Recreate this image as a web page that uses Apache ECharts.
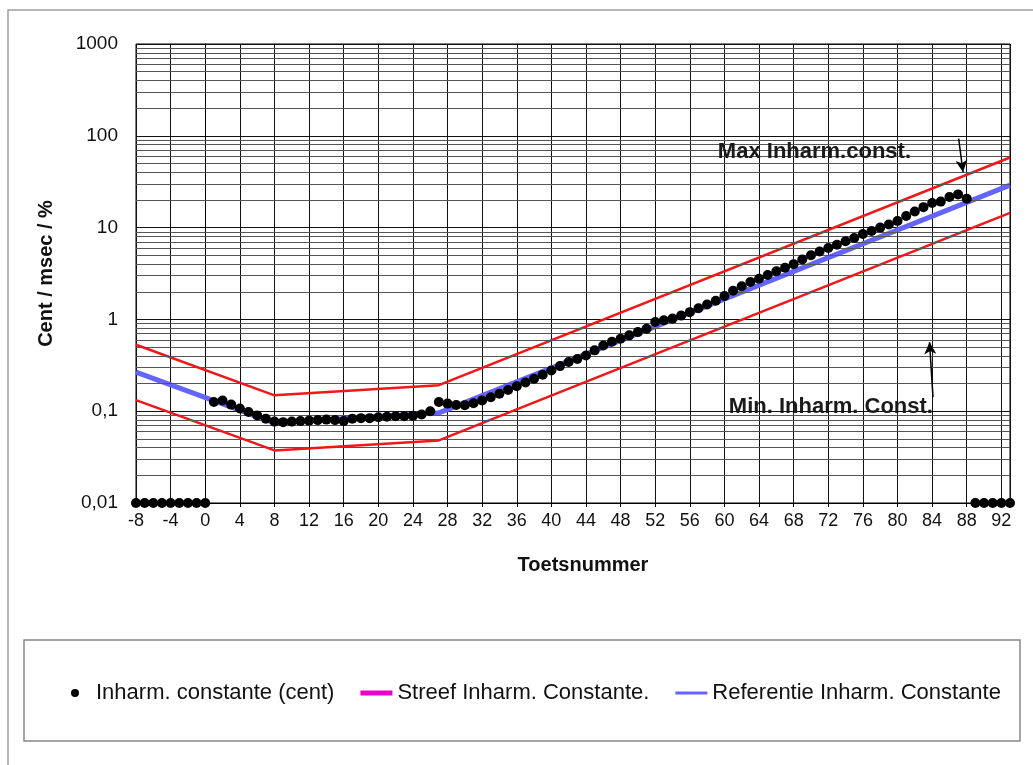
<!DOCTYPE html>
<html><head><meta charset="utf-8">
<script src="https://cdn.jsdelivr.net/npm/echarts@6/dist/echarts.min.js"></script>
<style>html,body{margin:0;padding:0;background:#fff}#c{width:1033px;height:765px}</style>
</head><body><div id="c"></div>
<script>
// ---- data ----
const keyStart = -8;          // first key number of the measured series
const inharmValues = [
  0.01,0.01,0.01,0.01,0.01,0.01,0.01,0.01,0.01,           // -8..0
  0.126,0.131,0.118,0.107,0.098,0.090,0.083,0.077,0.076,0.077, // 1..10
  0.078,0.079,0.080,0.081,0.080,0.078,0.083,0.084,0.084,0.086, // 11..20
  0.087,0.088,0.088,0.089,0.092,0.100,0.126,0.121,0.117,0.116, // 21..30
  0.122,0.131,0.142,0.155,0.170,0.187,0.205,0.226,0.250,0.278, // 31..40
  0.310,0.343,0.370,0.405,0.460,0.520,0.570,0.616,0.670,0.727, // 41..50
  0.790,0.935,0.980,1.02,1.10,1.20,1.32,1.45,1.60,1.80,        // 51..60
  2.05,2.30,2.55,2.77,3.05,3.35,3.65,4.00,4.50,5.00,           // 61..70
  5.50,6.00,6.50,7.10,7.70,8.50,9.20,10.0,10.8,11.8,           // 71..80
  13.4,15.0,16.7,18.5,19.2,21.5,23.0,20.6,                     // 81..88
  0.01,0.01,0.01,0.01,0.01                                     // 89..93
];
const referentiePoints = [[-8,0.267],[8,0.0746],[27,0.096],[93,29]];
const maxPoints        = [[-8,0.53],[8,0.149],[27,0.192],[93,58]];
const minPoints        = [[-8,0.132],[8,0.0374],[27,0.048],[93,14.5]];
const streefPoints     = [];
const xMin = -8, xMax = 93, xInterval = 4;
const yMin = 0.01, yMax = 1000;
const minorDecades = [0.01,0.1,1,10,100];
const minorMultipliers = [2,3,4,5,6,7,8,9];
const maxArrow = [[87.07,93],[87.57,40.2]];
const minArrow = [[84.1,0.1425],[83.7,0.566]];
const maxLabelPos = [70.4,65.9];
const minLabelPos = [72.3,0.11];

const names = {
  dots: 'Inharm. constante (cent)',
  streef: 'Streef Inharm. Constante.',
  ref: 'Referentie Inharm. Constante'
};

// ---- build ----
const dotData = inharmValues.map((v,i)=>[keyStart+i, v]);
const minorLines = [];
minorDecades.forEach(d=>minorMultipliers.forEach(m=>minorLines.push({yAxis: +(d*m).toPrecision(3)})));

const FONT = '"Liberation Sans", Arial, sans-serif';
const chart = echarts.init(document.getElementById('c'), null, {renderer:'canvas'});
chart.setOption({
  animation: false,
  backgroundColor: '#fff',
  textStyle: {fontFamily: FONT},
  grid: {left:136, top:44, right:23, bottom:262, show:true, backgroundColor:'#fff', borderColor:'#000', borderWidth:1, containLabel:false},
  graphic: [
    {type:'rect', z:-10, shape:{x:8, y:10, width:1040, height:780}, style:{fill:'#fff', stroke:'#a0a0a0', lineWidth:1.5}},
    {type:'rect', z:-5, shape:{x:24, y:640, width:996, height:101}, style:{fill:'#fff', stroke:'#888', lineWidth:1.5}}
  ],
  legend: {
    data: [
      {name:names.dots, icon:'circle', itemStyle:{color:'#000'}},
      {name:names.streef, icon:'path://M0,0h32v5h-32z', itemStyle:{color:'#ee00cc'}},
      {name:names.ref, icon:'path://M0,0h32v3h-32z', itemStyle:{color:'#6464ff'}}
    ],
    left: 66, top: 677, itemWidth: 32, itemHeight: 8, itemGap: 26,
    selectedMode: false,
    textStyle: {fontSize: 22, color:'#111', fontFamily: FONT}
  },
  xAxis: {
    type:'value', min:xMin, max:xMax, interval:xInterval,
    name:'Toetsnummer', nameLocation:'middle', nameGap:52,
    nameTextStyle:{fontSize:20, fontWeight:'bold', color:'#111', fontFamily:FONT, padding:[0,0,0,20]},
    axisLine:{show:true, lineStyle:{color:'#000', width:1}},
    axisTick:{show:true, length:4, lineStyle:{color:'#000'}},
    axisLabel:{fontSize:18, color:'#111', margin:9, showMaxLabel:false, fontFamily:FONT},
    splitLine:{show:true, lineStyle:{color:'#111', width:1}}
  },
  yAxis: {
    type:'log', logBase:10, min:yMin, max:yMax,
    name:'Cent / msec / %', nameLocation:'middle', nameGap:80, nameRotate:90,
    nameTextStyle:{fontSize:20, fontWeight:'bold', color:'#111', fontFamily:FONT},
    axisLine:{show:true, lineStyle:{color:'#000', width:1}},
    axisTick:{show:true, length:5, lineStyle:{color:'#000'}},
    axisLabel:{fontSize:19, color:'#111', margin:18, fontFamily:FONT,
      formatter: v => String(+(+v).toPrecision(4)).replace('.', ',')},
    splitLine:{show:true, lineStyle:{color:'#111', width:1}}
  },
  series: [
    {name:'minorGrid', type:'line', data:[], z:1, silent:true,
      markLine:{silent:true, symbol:['none','none'], label:{show:false}, animation:false,
        lineStyle:{color:'#555', width:1, type:'solid'}, emphasis:{disabled:true}, data:minorLines}},
    {name:'Max', type:'line', data:maxPoints, z:3, symbol:'none', silent:true,
      lineStyle:{color:'#f01818', width:2.5},
      markLine:{silent:true, symbol:['none','arrow'], symbolSize:[9,12], label:{show:false}, animation:false,
        lineStyle:{color:'#000', width:1.5, type:'solid'}, emphasis:{disabled:true},
        data:[[{coord:maxArrow[0]},{coord:maxArrow[1]}],[{coord:minArrow[0]},{coord:minArrow[1]}]]},
      markPoint:{silent:true, symbol:'circle', symbolSize:1, itemStyle:{color:'rgba(0,0,0,0)'}, animation:false,
        label:{show:true, position:'inside', fontSize:22, fontWeight:'bold', color:'#1a1a1a', fontFamily:FONT},
        data:[{coord:maxLabelPos, label:{formatter:'Max Inharm.const.'}},
              {coord:minLabelPos, label:{formatter:'Min. Inharm. Const.'}}]}},
    {name:'Min', type:'line', data:minPoints, z:3, symbol:'none', silent:true,
      lineStyle:{color:'#f01818', width:2.5}},
    {name:names.streef, type:'line', data:streefPoints, z:3, symbol:'none',
      itemStyle:{color:'#ee00cc'}, lineStyle:{color:'#ee00cc', width:4}},
    {name:names.ref, type:'line', data:referentiePoints, z:4, symbol:'none',
      itemStyle:{color:'#6464ff'}, lineStyle:{color:'#6464ff', width:5}},
    {name:names.dots, type:'scatter', data:dotData, z:5, symbol:'circle', symbolSize:10, clip:false,
      itemStyle:{color:'#000', opacity:1}}
  ]
});
</script></body></html>
